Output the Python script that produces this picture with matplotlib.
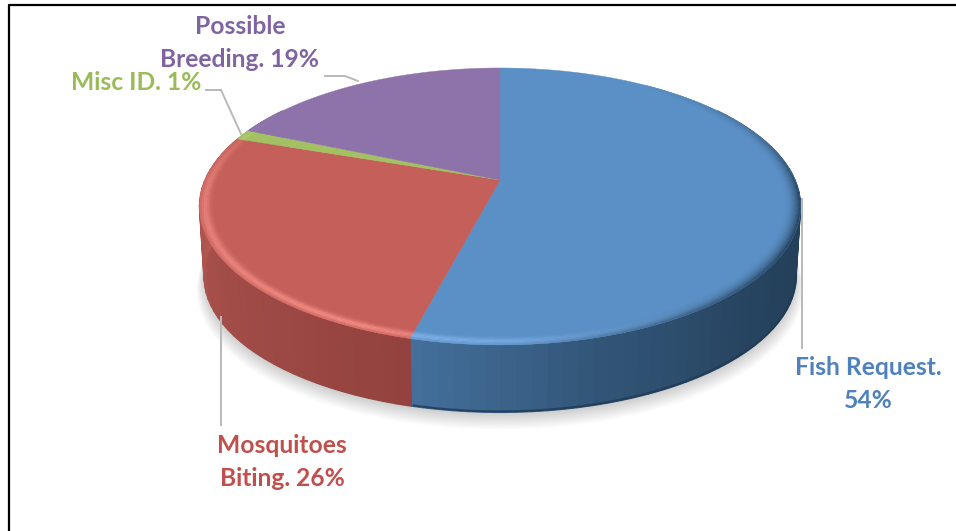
import numpy as np
import matplotlib
matplotlib.use("Agg")
import matplotlib.pyplot as plt
from matplotlib.collections import PolyCollection
from matplotlib.colors import to_rgb
from matplotlib.patches import Polygon

# Data
labels = ['Fish Request.\n54%', 'Mosquitoes\nBiting. 26%', 'Misc ID. 1%', 'Possible\nBreeding. 19%']
values = [54.0, 26.3, 1.2, 18.5]
face_colors = ['#5b90c6', '#c55f5a', '#a3c063', '#8e73aa']
text_colors = ['#4f81bd', '#c0504d', '#9bbb59', '#8064a2']
dark_colors = ['#24405a', '#8f3f3c', '#6d8240', '#5a4672']
wall_light = ['#44709c', '#b85c55', '#8ea654', '#7a6196']
rim_light = ['#84b6ec', '#f28c84', '#c4e080', '#a88cc8']

label_pos = [(868, 384), (282, 462), (136, 83), (240, 43)]
leaders = [
    ([802, 802], [199, 348]),
    ([221, 221], [317, 425]),
    ([206, 221, 241], [90, 90, 134]),
    ([325, 345, 358], [76, 76, 81]),
]

# Pie geometry on the page, in pixels
CX, CY = 500, 180
RX, RY = 295, 133.4
PERSP = 0.191
DEPTH = 70


def project(t, r=1.0, dz=0.0, shrink=1.0):
    # t in degrees, clockwise from the top of the pie
    a = np.radians(t)
    u, v = r * np.sin(a), r * np.cos(a)
    w = 1 + PERSP * v
    return CX + shrink * RX * u / w, CY - shrink * RY * v / w + dz


def mix(c1, c2, f):
    c1, c2 = np.array(to_rgb(c1)), np.array(to_rgb(c2))
    return tuple(c1 + (c2 - c1) * f)


edges = np.concatenate([[0], np.cumsum(values)]) / sum(values) * 360

fig = plt.figure(figsize=(9.56, 5.31), dpi=100)
ax = fig.add_axes([0, 0, 1, 1])
ax.set_xlim(0, 956)
ax.set_ylim(531, 0)
ax.axis('off')

# Outer frame, only left and top are visible
ax.plot([9.5, 9.5, 956], [531, 4.5, 4.5], color='black', lw=1.6, zorder=1)

# Soft shadow under the pie
tt = np.linspace(0, 360, 361)
for i in range(12):
    sx, sy = project(tt, 1.0, DEPTH + 2 + i * 1.0, 0.985 + i * 0.0022)
    ax.add_patch(Polygon(np.column_stack([sx, sy]), closed=True, fc='black', ec='none',
                         alpha=0.016, zorder=2))

# Side wall, drawn in coarse strips like the original
for i, (t0, t1) in enumerate(zip(edges[:-1], edges[1:])):
    polys, cols = [], []
    start, stop = max(t0, 55), min(t1, 305)
    if start >= stop:
        continue
    steps = np.arange(start, stop + 0.01, 2.5)
    if steps[-1] < stop:
        steps = np.append(steps, stop)
    for a, b in zip(steps[:-1], steps[1:]):
        sub = np.linspace(a, b, 4)
        x0, y0 = project(sub)
        x1, y1 = project(sub, 1.0, DEPTH, 0.985)
        polys.append(np.column_stack([np.r_[x0, x1[::-1]], np.r_[y0, y1[::-1]]]))
        m = (a + b) / 2
        if i == 0:
            f = np.interp(m, [115, 135, 165, 194], [0, 0.1, 0.45, 1])
        else:
            f = np.interp(m, [194, 235, 285], [0.1, 0.45, 1])
        cols.append(mix(dark_colors[i], wall_light[i], f))
    ax.add_collection(PolyCollection(polys, facecolors=cols, edgecolors=cols, linewidths=0.9, zorder=3))

# Darker line along the foot of the wall
sub = np.linspace(100, 194, 120)
fx, fy = project(sub, 1.0, DEPTH - 1, 0.985)
ax.plot(fx, fy, color='#1f3a55', lw=1.5, alpha=0.8, zorder=4)

# Top face of each slice
for i, (t0, t1) in enumerate(zip(edges[:-1], edges[1:])):
    sub = np.linspace(t0, t1, max(int(t1 - t0) * 2, 4))
    x, y = project(sub)
    pts = np.column_stack([np.r_[CX, x], np.r_[CY, y]])
    ax.add_patch(Polygon(pts, closed=True, fc=face_colors[i], ec=face_colors[i], lw=0.3, zorder=5))

# Bevel along the rim: light at the front left, dark on the right
rings = np.linspace(0.945, 1.0, 10)
polys, cols = [], []
for i, (t0, t1) in enumerate(zip(edges[:-1], edges[1:])):
    for a in np.arange(t0, t1, 1.0):
        b = min(a + 1.0, t1)
        m = (a + b) / 2
        light = np.interp(m, [130, 175, 205, 270, 305], [0, 0.6, 1, 0.65, 0])
        dark = np.interp(m, [35, 65, 95, 120, 150, 178], [0, 0.35, 1, 1, 0.6, 0])
        if light == 0 and dark == 0:
            continue
        for k, (r0, r1) in enumerate(zip(rings[:-1], rings[1:])):
            rho = (k + 0.5) / (len(rings) - 1)
            xa, ya = project(np.array([a, b]), r0)
            xb, yb = project(np.array([b, a]), r1)
            polys.append(np.column_stack([np.r_[xa, xb], np.r_[ya, yb]]))
            bump = np.exp(-((rho - 0.68) / 0.28) ** 2)
            col = mix(face_colors[i], rim_light[i], light * bump)
            col = mix(col, dark_colors[i], dark * rho ** 2.2)
            cols.append(col)
ax.add_collection(PolyCollection(polys, facecolors=cols, edgecolors=cols, linewidths=0.2, zorder=6))

# Leader lines
for lx, ly in leaders:
    ax.plot(lx, ly, color='#b9b9b9', lw=1.4, zorder=7, solid_joinstyle='miter')

# Labels
for text, (x, y), col in zip(labels, label_pos, text_colors):
    ax.text(x, y, text, color=col, fontsize=17.7, fontweight='bold', family='Lato',
            ha='center', va='center', linespacing=1.48, zorder=8)

fig.savefig('out.png', dpi=100)
